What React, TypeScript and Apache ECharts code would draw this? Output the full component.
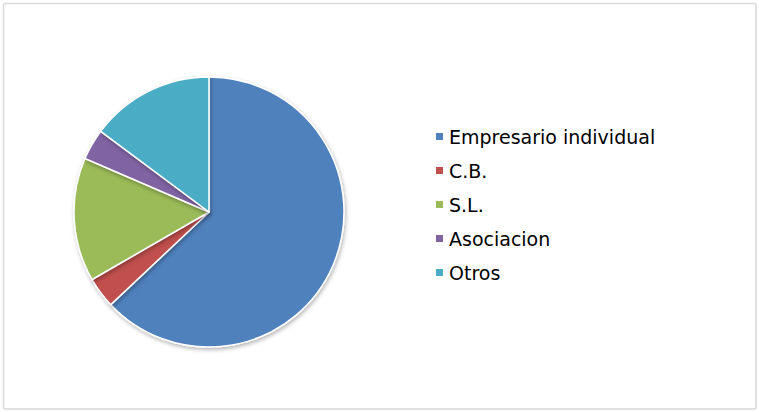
import React, { useEffect, useRef } from "react";
import * as echarts from "echarts";

const categories = ["Empresario individual", "C.B.", "S.L.", "Asociacion", "Otros"];
const values = [17, 1, 4, 1, 4];
const colors = ["#4F81BD", "#C0504D", "#9BBB59", "#8064A2", "#4BACC6"];

export default function App() {
  const ref = useRef<HTMLDivElement>(null);
  useEffect(() => {
    const chart = echarts.init(ref.current!, null, { renderer: "svg" });
    chart.setOption({
      animation: false,
      backgroundColor: "#ffffff",
      color: colors,
      graphic: [
        {
          type: "rect",
          shape: { x: 3.5, y: 3.5, width: 752.5, height: 405.5, r: 2 },
          style: { fill: "none", stroke: "#d9d9d9", lineWidth: 1.5 },
          silent: true,
        },
      ],
      legend: {
        orient: "vertical",
        left: 429,
        top: 120,
        icon: "rect",
        itemWidth: 9,
        itemHeight: 9,
        itemGap: 11,
        textStyle: {
          fontFamily: "DejaVu Sans",
          fontSize: 19,
          color: "#000000",
          lineHeight: 23,
          padding: [0, 0, 0, 0],
        },
        data: categories,
      },
      series: [
        {
          type: "pie",
          center: [209, 212],
          radius: 135,
          startAngle: 90,
          clockwise: true,
          label: { show: false },
          labelLine: { show: false },
          emphasis: { disabled: true },
          itemStyle: {
            borderColor: "#ffffff",
            borderWidth: 1.5,
            shadowBlur: 4,
            shadowColor: "rgba(0,0,0,0.3)",
            shadowOffsetX: 1,
            shadowOffsetY: 2,
          },
          data: categories.map((name, i) => ({ name, value: values[i] })),
        },
      ],
    });
    return () => chart.dispose();
  }, []);
  return (
    <div
      ref={ref}
      style={{ position: "absolute", left: 0, top: 0, width: 759, height: 412 }}
    />
  );
}
